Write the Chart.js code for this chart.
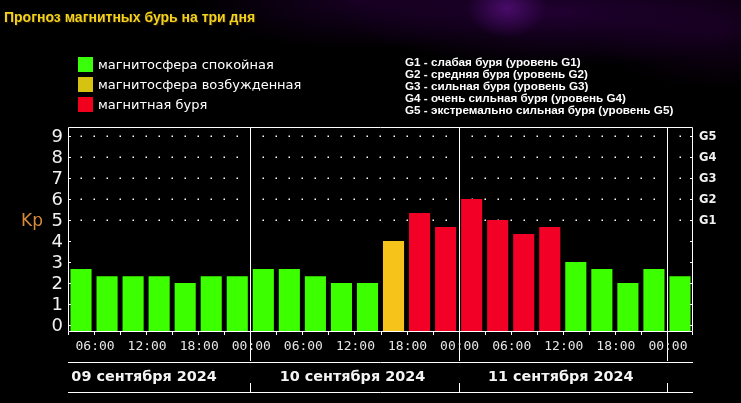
<!DOCTYPE html>
<html lang="ru">
<head>
<meta charset="utf-8">
<title>Прогноз магнитных бурь на три дня</title>
<script src="https://cdn.jsdelivr.net/npm/chart.js@4.4.1/dist/chart.umd.min.js"></script>
<style>
  html, body { margin: 0; padding: 0; background: #000; }
  .page {
    position: relative; width: 741px; height: 403px; overflow: hidden;
    background:
      radial-gradient(ellipse 40px 30px at 507px 8px, rgba(110, 20, 160, 0.55), transparent),
      radial-gradient(ellipse 220px 55px at 560px 12px, rgba(60, 0, 90, 0.55), transparent),
      radial-gradient(ellipse 170px 50px at 360px 0px, rgba(50, 0, 75, 0.45), transparent),
      radial-gradient(ellipse 130px 60px at 720px 30px, rgba(50, 0, 70, 0.4), transparent),
      #000;
  }
  canvas { position: absolute; left: 0; top: 0; }
  .title {
    position: absolute; left: 4px; top: 9px;
    font: bold 14px "Liberation Sans", Arial, sans-serif;
    color: #f2d21e; text-shadow: 1px 1px 1px #302000;
  }
  .legend { position: absolute; left: 78px; top: 57px; font: 13px "DejaVu Sans", sans-serif; color: #fff; }
  .legend div { height: 20px; line-height: 15px; white-space: nowrap; }
  .legend span { display: inline-block; width: 15px; height: 15px; margin-right: 5px; vertical-align: top; }
  .glegend {
    position: absolute; left: 405px; top: 56px;
    font: bold 11.7px "Liberation Sans", Arial, sans-serif; color: #fff; line-height: 12px;
  }
</style>
</head>
<body>
<div class="page">
  <canvas id="chart" width="741" height="403"></canvas>
  <div class="title">Прогноз магнитных бурь на три дня</div>
  <div class="legend">
    <div><span style="background:#39ff0a"></span>магнитосфера спокойная</div>
    <div><span style="background:#d6c210"></span>магнитосфера возбужденная</div>
    <div><span style="background:#f0001c"></span>магнитная буря</div>
  </div>
  <div class="glegend">
    <div>G1 - слабая буря (уровень G1)</div>
    <div>G2 - средняя буря (уровень G2)</div>
    <div>G3 - сильная буря (уровень G3)</div>
    <div>G4 - очень сильная буря (уровень G4)</div>
    <div>G5 - экстремально сильная буря (уровень G5)</div>
  </div>
</div>
<script>
// 3-hour slots, start time of each slot (09.09 03:00 ... 12.09 00:00)
const slots = [
  '03:00', '06:00', '09:00', '12:00', '15:00', '18:00', '21:00',
  '00:00', '03:00', '06:00', '09:00', '12:00', '15:00', '18:00', '21:00',
  '00:00', '03:00', '06:00', '09:00', '12:00', '15:00', '18:00', '21:00',
  '00:00'
];
const kp = [
  2.67, 2.33, 2.33, 2.33, 2.00, 2.33, 2.33,
  2.67, 2.67, 2.33, 2.00, 2.00, 4.00, 5.33, 4.67,
  6.00, 5.00, 4.33, 4.67, 3.00, 2.67, 2.00, 2.67,
  2.33
];
const days = ['09 сентября 2024', '10 сентября 2024', '11 сентября 2024'];
const kpTicks = [0, 1, 2, 3, 4, 5, 6, 7, 8, 9];
const gLabels = ['G1', 'G2', 'G3', 'G4', 'G5'];
const gLevels = [5, 6, 7, 8, 9];

const Y_MIN = -0.33;
const Y_MAX = 9.43;

const GREEN = '#3cff00';
const YELLOW = '#f6c31a';
const RED = '#f20026';

// Kp 4 = excited, above 4 = storm
function barColor(v) {
  if (v > 4.1) return RED;
  if (v >= 3.9) return YELLOW;
  return GREEN;
}

// Frame, dotted grid, ticks and labels drawn from the chart's own scales
const framePlugin = {
  id: 'frame',
  beforeDatasetsDraw(chart) {
    const { ctx, scales: { x, y } } = chart;
    const sw = x.getPixelForValue(1) - x.getPixelForValue(0);
    // dotted grid for G levels, broken at day lines
    const segments = [];
    let start = 0;
    slots.forEach((s, i) => {
      if (i > 0 && s === '00:00') { segments.push([start, i - 1]); start = i; }
    });
    segments.push([start, slots.length - 1]);
    ctx.save();
    ctx.fillStyle = '#fff';
    gLevels.forEach(level => {
      const py = Math.round(y.getPixelForValue(level));
      segments.forEach(([s0, s1]) => {
        const x0 = x.getPixelForValue(s0);
        const x1 = x.getPixelForValue(s1);
        for (let px = x0; px <= x1 + 0.5; px += sw / 2) {
          ctx.fillRect(Math.round(px) - 0.5, py - 0.5, 1.5, 1.5);
        }
      });
    });
    ctx.restore();
  },
  afterDatasetsDraw(chart) {
    const { ctx, chartArea: a, scales: { x, y } } = chart;
    const sw = x.getPixelForValue(1) - x.getPixelForValue(0);
    const edge = i => x.getPixelForValue(i) - sw / 2;
    const line1 = a.bottom + 30;   // line under time labels
    const line2 = a.bottom + 60;   // line under date labels

    ctx.save();
    ctx.strokeStyle = '#fff';
    ctx.lineWidth = 1;
    ctx.beginPath();
    ctx.rect(a.left + 0.5, a.top + 0.5, a.right - a.left - 1, a.bottom - a.top - 1);
    // horizontal rules under the axis
    ctx.moveTo(a.left, line1 + 0.5); ctx.lineTo(a.right, line1 + 0.5);
    ctx.moveTo(a.left, line2 + 0.5); ctx.lineTo(a.right, line2 + 0.5);
    // left / right axis ticks
    kpTicks.forEach(t => {
      const py = Math.round(y.getPixelForValue(t)) + 0.5;
      ctx.moveTo(a.left, py); ctx.lineTo(a.left + 3, py);
      ctx.moveTo(a.right - 3, py); ctx.lineTo(a.right, py);
    });
    // bottom ticks and day lines
    for (let i = 0; i <= slots.length; i++) {
      const px = Math.round(i < slots.length ? edge(i) : a.right - 1) + 0.5;
      if (i < slots.length && i > 0 && slots[i] === '00:00') {
        ctx.moveTo(px, a.top); ctx.lineTo(px, line1 - 1);
        ctx.moveTo(px, line2 - 9); ctx.lineTo(px, line2);
      } else {
        ctx.moveTo(px, a.bottom); ctx.lineTo(px, a.bottom + 3);
      }
    }
    ctx.stroke();

    // y tick labels
    ctx.fillStyle = '#f0f0f0';
    ctx.font = '18px "DejaVu Sans", sans-serif';
    ctx.textAlign = 'right';
    ctx.textBaseline = 'middle';
    kpTicks.forEach(t => ctx.fillText(String(t), a.left - 5, y.getPixelForValue(t) + 1));

    // Kp title
    ctx.fillStyle = '#d68a3a';
    ctx.font = '17px "DejaVu Sans", sans-serif';
    ctx.textAlign = 'left';
    ctx.fillText('Kp', 21, y.getPixelForValue(5) + 2);

    // G labels on the right
    ctx.fillStyle = '#f0f0f0';
    ctx.font = 'bold 11.5px "DejaVu Sans", sans-serif';
    gLabels.forEach((g, k) => ctx.fillText(g, a.right + 6, y.getPixelForValue(gLevels[k]) + 1));

    // time labels every 6 hours, at slot edges
    ctx.fillStyle = '#e6e6e6';
    ctx.font = '13px "DejaVu Sans Mono", monospace';
    ctx.textAlign = 'center';
    slots.forEach((s, i) => {
      if (i % 2 === 1) ctx.fillText(s, edge(i) + 1, a.bottom + 15);
    });

    // day labels centred on each day (8 slots wide)
    ctx.fillStyle = '#f4f4f4';
    ctx.font = 'bold 14.4px "DejaVu Sans", sans-serif';
    let d = 0;
    slots.forEach((s, i) => {
      if (i > 0 && s === '00:00' && d < days.length) {
        ctx.fillText(days[d], edge(i) - 4 * sw - 2, line1 + 15);
        d++;
      }
    });
    ctx.restore();
  }
};

new Chart(document.getElementById('chart'), {
  type: 'bar',
  data: {
    labels: slots,
    datasets: [{
      data: kp,
      backgroundColor: kp.map(barColor),
      base: Y_MIN,
      barPercentage: 0.81,
      categoryPercentage: 1
    }]
  },
  options: {
    responsive: false,
    animation: false,
    devicePixelRatio: 1,
    layout: { padding: { left: 68, right: 48, top: 127, bottom: 71 } },
    plugins: { legend: { display: false }, tooltip: { enabled: false } },
    scales: {
      x: { display: false, offset: true },
      y: { display: false, min: Y_MIN, max: Y_MAX }
    }
  },
  plugins: [framePlugin]
});
</script>
</body>
</html>
